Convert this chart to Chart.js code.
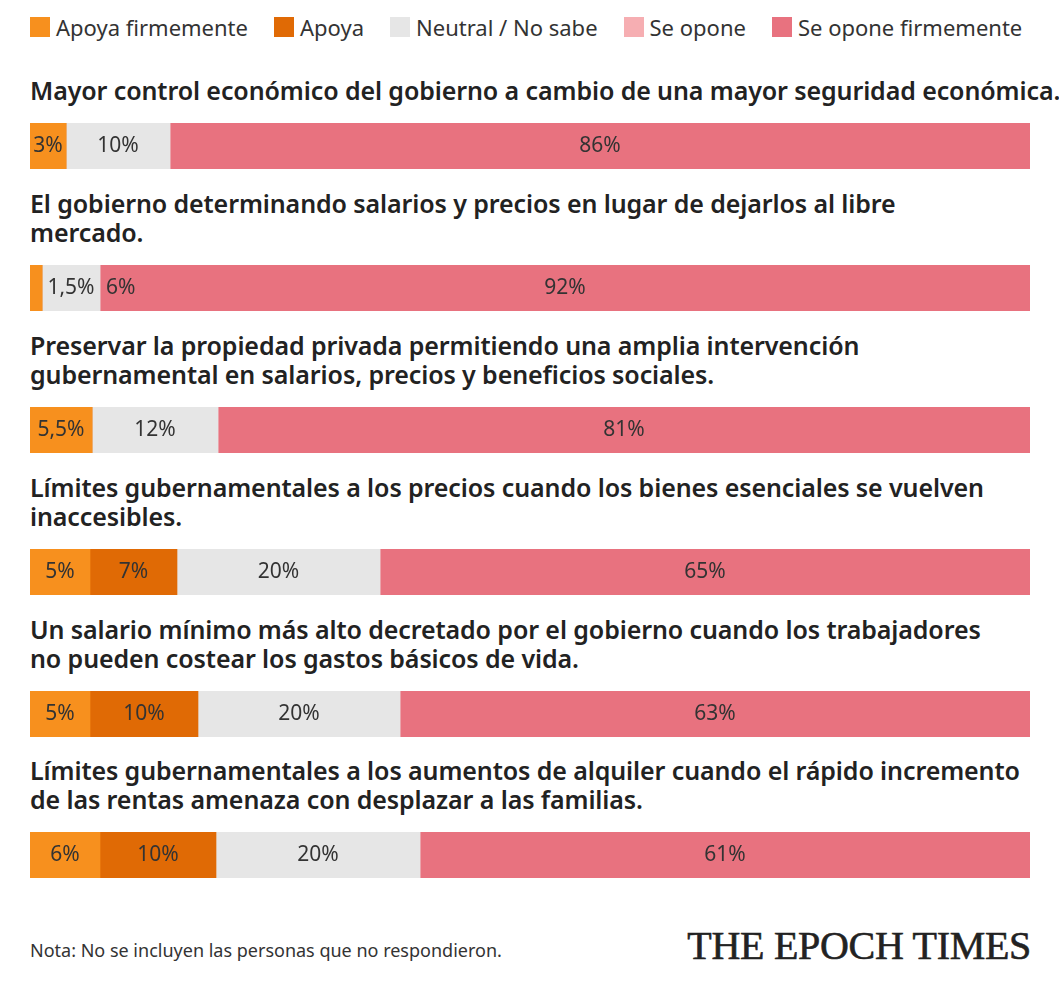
<!DOCTYPE html>
<html><head><meta charset="utf-8">
<script src="https://cdn.jsdelivr.net/npm/chart.js@4"></script>
<style>
body{margin:0;background:#fff;font-family:"Noto Sans",sans-serif;color:#222;width:1059px;height:992px;overflow:hidden;position:relative}
#legend{position:absolute;top:12px;left:30px;display:flex;font-size:22px;color:#333}
#legend span{display:flex;align-items:center;margin-right:26px}
#legend i{display:inline-block;width:20px;height:20px;margin-right:6px}
h2{position:absolute;left:30px;margin:0;font-size:25px;font-weight:600;line-height:29px;white-space:nowrap;letter-spacing:-0.1px}
.bar{position:absolute;left:30px;width:1000px;height:46px}
#note{position:absolute;left:30px;top:938px;font-size:18px;color:#333}
#logo{position:absolute;right:28px;top:922px;font-family:"Liberation Serif",serif;font-size:40px;color:#222;letter-spacing:-0.3px;-webkit-text-stroke:0.6px #222}
</style></head><body>
<div id="legend"></div>
<div id="rows"></div>
<div id="note">Nota: No se incluyen las personas que no respondieron.</div>
<div id="logo">THE EPOCH TIMES</div>
<script>
// preguntas (con los saltos de línea del original)
const questions = [
  ['Mayor control económico del gobierno a cambio de una mayor seguridad económica.'],
  ['El gobierno determinando salarios y precios en lugar de dejarlos al libre', 'mercado.'],
  ['Preservar la propiedad privada permitiendo una amplia intervención', 'gubernamental en salarios, precios y beneficios sociales.'],
  ['Límites gubernamentales a los precios cuando los bienes esenciales se vuelven', 'inaccesibles.'],
  ['Un salario mínimo más alto decretado por el gobierno cuando los trabajadores', 'no pueden costear los gastos básicos de vida.'],
  ['Límites gubernamentales a los aumentos de alquiler cuando el rápido incremento', 'de las rentas amenaza con desplazar a las familias.']
];
const seriesNames = ['Apoya firmemente', 'Apoya', 'Neutral / No sabe', 'Se opone', 'Se opone firmemente'];
const seriesColors = ['#f7901e', '#e06a05', '#e6e6e6', '#f6aeb2', '#e8727f'];
// anchos de segmento (%)
const apoyaFirme = [3.6, 1.2, 6.2, 6, 6, 7];
const apoya      = [0, 0, 0, 8.7, 10.8, 11.6];
const neutral    = [10.4, 5.8, 12.6, 20.3, 20.2, 20.4];
const seOpone    = [0, 0, 0, 0, 0, 0];
const opFirme    = [86, 93, 81.2, 65, 63, 61];
// etiquetas mostradas
const lblApoyaFirme = ['3%', '', '5,5%', '5%', '5%', '6%'];
const lblApoya      = ['', '', '', '7%', '10%', '10%'];
const lblNeutral    = ['10%', '1,5%', '12%', '20%', '20%', '20%'];
const lblSeOpone    = ['', '6%', '', '', '', ''];
const lblOpFirme    = ['86%', '92%', '81%', '65%', '63%', '61%'];

const values = [apoyaFirme, apoya, neutral, seOpone, opFirme];
const labels = [lblApoyaFirme, lblApoya, lblNeutral, lblSeOpone, lblOpFirme];
const barTops = [123, 265, 407, 549, 691, 832];

const legend = document.getElementById('legend');
seriesNames.forEach((n, i) => {
  legend.innerHTML += '<span><i style="background:' + seriesColors[i] + '"></i>' + n + '</span>';
});

const segLabels = {
  id: 'segLabels',
  afterDatasetsDraw(chart) {
    const ctx = chart.ctx;
    const r = chart.options.rowIndex;
    ctx.save();
    ctx.font = '21px "Noto Sans", sans-serif';
    ctx.fillStyle = '#333';
    ctx.textAlign = 'center';
    ctx.textBaseline = 'middle';
    chart.data.datasets.forEach((ds, d) => {
      const txt = labels[d][r];
      if (!txt) return;
      const bar = chart.getDatasetMeta(d).data[0];
      const w = Math.abs(bar.x - bar.base);
      const tw = ctx.measureText(txt).width;
      const x = w > tw + 4 ? (bar.x + bar.base) / 2 : Math.min(bar.x, bar.base) + tw / 2 + 6;
      ctx.fillText(txt, x, bar.y);
    });
    ctx.restore();
  }
};

const rows = document.getElementById('rows');
questions.forEach((q, r) => {
  const h = document.createElement('h2');
  h.innerHTML = q.join('<br>');
  h.style.top = (barTops[r] - q.length * 29 - 18) + 'px';
  rows.appendChild(h);
  const b = document.createElement('div');
  b.className = 'bar';
  b.style.top = barTops[r] + 'px';
  b.innerHTML = '<canvas id="c' + r + '"></canvas>';
  rows.appendChild(b);
  new Chart(document.getElementById('c' + r), {
    type: 'bar',
    data: {
      labels: [''],
      datasets: seriesNames.map((n, i) => ({
        label: n,
        data: [values[i][r]],
        backgroundColor: seriesColors[i],
        barPercentage: 1,
        categoryPercentage: 1
      }))
    },
    options: {
      rowIndex: r,
      indexAxis: 'y',
      responsive: true,
      maintainAspectRatio: false,
      animation: false,
      layout: { padding: 0 },
      scales: {
        x: { stacked: true, min: 0, max: 100, display: false },
        y: { stacked: true, display: false }
      },
      plugins: { legend: { display: false }, tooltip: { enabled: false } }
    },
    plugins: [segLabels]
  });
});
</script>
</body></html>
